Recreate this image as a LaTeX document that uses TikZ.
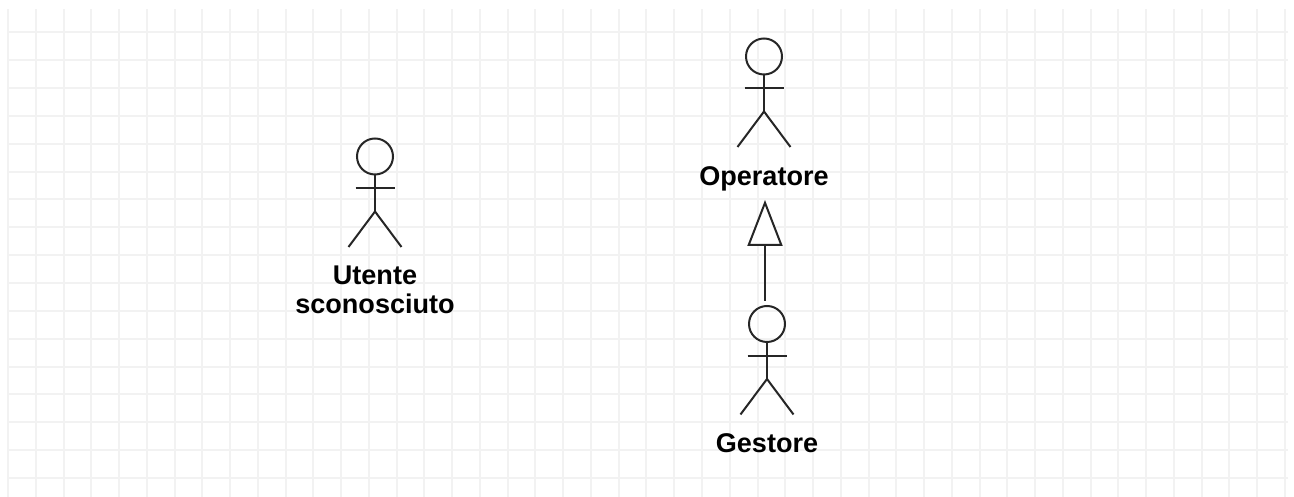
\documentclass[tikz,border=0pt]{standalone}
\usepackage{fontspec}
\setmainfont{Liberation Sans}
\usetikzlibrary{arrows.meta}
\tikzset{
	gridline/.style={draw=black!5, line width=0.04cm},
	stickline/.style={draw=black!85, line width=0.04cm},
	actorlabel/.style={font=\bfseries\fontsize{15.4}{16}\selectfont, align=center, inner sep=0pt, anchor=north},
	actor/.pic={
		\node[stickline, circle, minimum size=0.72cm, inner sep=0pt] (head) at (0,0) {};
		\draw[stickline] (head.south) -- (0,-1.10) coordinate (hip);
		\draw[stickline] (-0.39,-0.64) -- (0.39,-0.64);
		\draw[stickline] (-0.53,-1.81) -- (hip) -- (0.53,-1.81);
		\node[actorlabel] (label) at (0,-2.19) {#1};
	}
}
\begin{document}
\begin{tikzpicture}
	\useasboundingbox (0,0) rectangle (25.88,9.94);
	\fill[white] (0,0) rectangle (25.88,9.94);
	\foreach \i in {0,...,46} {
		\draw[gridline] ({0.16+0.5552*\i},0) -- ++(0,9.76);
	}
	\foreach \j in {0,...,16} {
		\draw[gridline] (0.16,{0.38+0.557*\j}) -- (25.76,{0.38+0.557*\j});
	}
	\pic (utente) at (7.50,6.81) {actor={Utente\\sconosciuto}};
	\pic (oper) at (15.28,8.81) {actor={Operatore}};
	\pic (gest) at (15.34,3.46) {actor={Gestore}};
	\coordinate (arrowtip) at (15.30,5.94);
	\draw[stickline, shorten <=0.08cm, -{Triangle[length=0.92cm, width=0.70cm, fill=white]}] (gesthead.north -| arrowtip) -- (arrowtip);
\end{tikzpicture}
\end{document}
